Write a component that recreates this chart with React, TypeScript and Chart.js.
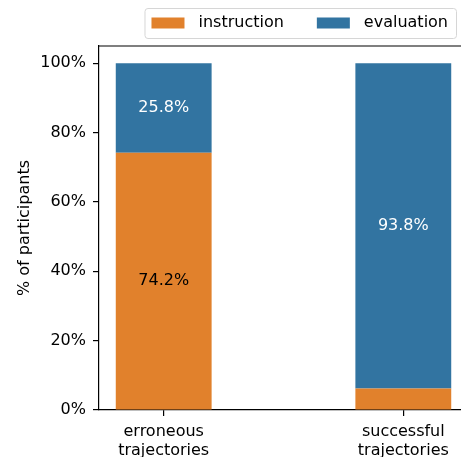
import React, { useEffect, useRef } from "react";
import { Chart, registerables } from "chart.js";

Chart.register(...registerables);

// ---- data ----
const CATEGORIES = ["erroneous trajectories", "successful trajectories"];
const CATEGORY_LINES = [
  ["erroneous", "trajectories"],
  ["successful", "trajectories"],
];
const INSTRUCTION = [74.2, 6.2];
const EVALUATION = [25.8, 93.8];
const Y_TICKS = [0, 20, 40, 60, 80, 100];
const SERIES_NAMES = ["instruction", "evaluation"];
const SERIES_COLORS = ["#e1812c", "#3274a1"];
const LABEL_COLORS = ["#000000", "#ffffff"];

const FONT = "'DejaVu Sans', sans-serif";
const TEXT = "#000000";

const topSpine = {
  id: "topSpine",
  afterDraw(chart: any) {
    const { ctx, chartArea } = chart;
    ctx.save();
    ctx.strokeStyle = "#000";
    ctx.lineWidth = 1.2;
    ctx.beginPath();
    ctx.moveTo(chartArea.left, chartArea.top);
    ctx.lineTo(chartArea.right, chartArea.top);
    ctx.stroke();
    ctx.restore();
  },
};

const valueLabels = {
  id: "valueLabels",
  afterDatasetsDraw(chart: any) {
    const { ctx } = chart;
    ctx.save();
    ctx.font = `16px ${FONT}`;
    ctx.textAlign = "center";
    ctx.textBaseline = "middle";
    chart.data.datasets.forEach((ds: any, di: number) => {
      const meta = chart.getDatasetMeta(di);
      meta.data.forEach((bar: any, i: number) => {
        const v = ds.data[i].y;
        if (v < 10) return;
        ctx.fillStyle = LABEL_COLORS[di];
        ctx.fillText(v.toFixed(1) + "%", bar.x, (bar.y + bar.base) / 2);
      });
    });
    ctx.restore();
  },
};

const frameLegend = {
  id: "frameLegend",
  afterDraw(chart: any) {
    const { ctx } = chart;
    ctx.save();
    ctx.font = `16px ${FONT}`;
    const boxW = 33, boxH = 11, gapText = 14, gapItem = 33, padL = 7, padR = 8;
    const widths = SERIES_NAMES.map((n) => ctx.measureText(n).width);
    let total = padL + padR + gapItem * (SERIES_NAMES.length - 1);
    widths.forEach((w) => (total += boxW + gapText + w));
    const right = 456, top = 8, bottom = 38;
    const left = right - total;
    const cy = (top + bottom) / 2;
    ctx.fillStyle = "rgba(255,255,255,0.8)";
    ctx.strokeStyle = "#d6d6d6";
    ctx.lineWidth = 1;
    ctx.beginPath();
    (ctx as any).roundRect(left + 0.5, top + 0.5, total, bottom - top, 3);
    ctx.fill();
    ctx.stroke();
    let x = left + padL;
    SERIES_NAMES.forEach((n, i) => {
      ctx.fillStyle = SERIES_COLORS[i];
      ctx.fillRect(x, cy - boxH / 2, boxW, boxH);
      x += boxW + gapText;
      ctx.fillStyle = TEXT;
      ctx.textAlign = "left";
      ctx.textBaseline = "middle";
      ctx.fillText(n, x, cy);
      x += widths[i] + gapItem;
    });
    ctx.restore();
  },
};

export default function App() {
  const ref = useRef<HTMLCanvasElement>(null);
  useEffect(() => {
    if (!ref.current) return;
    const series = [INSTRUCTION, EVALUATION];
    const chart = new Chart(ref.current, {
      type: "bar",
      data: {
        datasets: series.map((vals, si) => ({
          label: SERIES_NAMES[si],
          data: vals.map((y, i) => ({ x: i, y })),
          backgroundColor: SERIES_COLORS[si],
          borderWidth: 0,
          categoryPercentage: 1,
          barPercentage: 0.4,
        })),
      } as any,
      options: {
        responsive: false,
        animation: false,
        layout: { padding: { top: 46, left: 0, right: 0, bottom: 0 } },
        plugins: {
          legend: { display: false },
          tooltip: { enabled: false },
        },
        scales: {
          x: {
            type: "linear",
            stacked: true,
            offset: false,
            min: -0.27,
            max: 1.27,
            afterBuildTicks: (s: any) => {
              s.ticks = CATEGORIES.map((_, i) => ({ value: i }));
            },
            afterFit: (s: any) => {
              s.height = 47;
            },
            ticks: {
              callback: (v: any) => CATEGORY_LINES[v] ?? "",
              font: { family: FONT, size: 16, lineHeight: 1.2 },
              color: TEXT,
              padding: 6,
              maxRotation: 0,
              autoSkip: false,
            },
            grid: { offset: false, drawOnChartArea: false, tickLength: 6, color: "#000", lineWidth: 1.2 },
            border: { color: "#000", width: 1.2 },
          },
          y: {
            type: "linear",
            stacked: true,
            min: 0,
            max: 105,
            afterBuildTicks: (s: any) => {
              s.ticks = Y_TICKS.map((v) => ({ value: v }));
            },
            afterFit: (s: any) => {
              s.width = 99;
            },
            ticks: {
              callback: (v: any) => v + "%",
              font: { family: FONT, size: 16 },
              color: TEXT,
              padding: 7,
            },
            title: {
              display: true,
              text: "% of participants",
              font: { family: FONT, size: 16, lineHeight: 1.2 },
              color: TEXT,
              padding: { top: 15, bottom: 0 },
            },
            grid: { drawOnChartArea: false, tickLength: 6, color: "#000", lineWidth: 1.2 },
            border: { color: "#000", width: 1.2 },
          },
        },
      } as any,
      plugins: [topSpine, valueLabels, frameLegend],
    });
    return () => chart.destroy();
  }, []);
  return (
    <div
      style={{
        position: "absolute",
        left: 0,
        top: 0,
        width: 461,
        height: 457,
        overflow: "hidden",
        background: "#fff",
      }}
    >
      <canvas ref={ref} width={468} height={457} style={{ width: 468, height: 457, display: "block" }} />
    </div>
  );
}
